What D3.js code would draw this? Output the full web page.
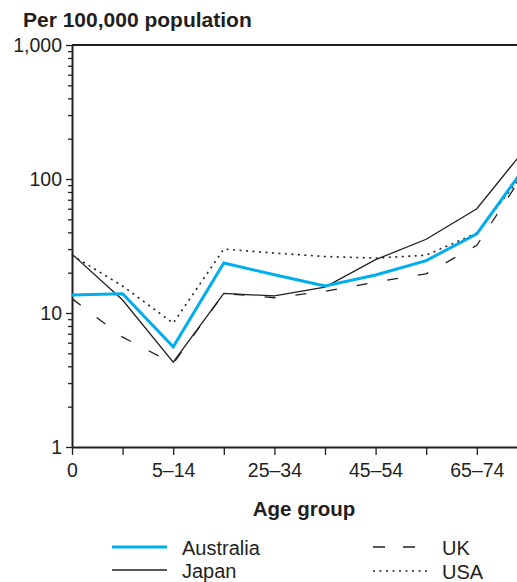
<!DOCTYPE html>
<html>
<head>
<meta charset="utf-8">
<script src="https://cdn.jsdelivr.net/npm/d3@7"></script>
<style>
  body { margin: 0; background: #fff; }
  svg { display: block; font-family: "Liberation Sans", Arial, sans-serif; }
</style>
</head>
<body>
<div id="graf"></div>
<script>
// datos
var edades = ['0', '1–4', '5–14', '15–24', '25–34', '35–44', '45–54', '55–64', '65–74', '75–84']
var australia = [13.6, 13.9, 5.6, 23.6, 19.3, 15.9, 19.2, 24.6, 39, 130]
var japon     = [27.5, 12.5, 4.3, 14, 13.4, 15.6, 25, 35.5, 60, 176]
var uk        = [12.8, 6.6, 4.2, 14, 13, 14.5, 17, 19.6, 32, 121]
var usa       = [27, 15.9, 8.4, 30, 28, 26.4, 25.7, 27, 39.5, 120]
var yTicks = [1, 10, 100, 1000]
var xEtiquetas = ['0', '5–14', '25–34', '45–54', '65–74']

var ancho = 517, alto = 582
var margins = { top: 45, left: 72, bottom: 135 }

var svg = d3.select('#graf').append('svg')
  .attr('width', ancho)
  .attr('height', alto)

// escalas
var x = d3.scalePoint()
  .domain(edades)
  .range([margins.left, margins.left + 9 * 50.6])

var y = d3.scaleLog()
  .domain([1, 1000])
  .range([alto - margins.bottom, margins.top])

// titulo
svg.append('text')
  .attr('x', 23).attr('y', 27)
  .attr('font-size', '21px').attr('font-weight', 'bold')
  .attr('fill', '#231f20')
  .text('Per 100,000 population')

// linea superior
svg.append('line')
  .attr('x1', margins.left).attr('x2', ancho)
  .attr('y1', y(1000)).attr('y2', y(1000))
  .attr('stroke', '#231f20').attr('stroke-width', 2)

// eje y (menores)
var menores = []
for (var dec = 1; dec < 1000; dec *= 10) {
  for (var k = 2; k <= 9; k++) menores.push(dec * k)
}
svg.append('g')
  .attr('transform', `translate(${margins.left}, 0)`)
  .call(d3.axisLeft(y).tickValues(menores).tickSize(4).tickFormat(''))
  .call(g => g.select('.domain').remove())
  .selectAll('line').attr('stroke', '#231f20').attr('stroke-width', 1.3)

// eje y (mayores)
var yAxisGroup = svg.append('g')
  .attr('transform', `translate(${margins.left}, 0)`)
  .call(d3.axisLeft(y).tickValues(yTicks).tickSize(6).tickSizeOuter(0).tickPadding(4)
    .tickFormat(d3.format(',')))
yAxisGroup.select('.domain').attr('stroke', '#231f20').attr('stroke-width', 2)
yAxisGroup.selectAll('line').attr('stroke', '#231f20').attr('stroke-width', 1.3)
yAxisGroup.selectAll('text')
  .attr('font-size', '19.5px').attr('fill', '#231f20')
  .attr('font-family', '"Liberation Sans", Arial, sans-serif')

// eje x
var xAxisGroup = svg.append('g')
  .attr('transform', `translate(0, ${y(1)})`)
  .call(d3.axisBottom(x).tickSize(8).tickSizeOuter(0).tickPadding(8)
    .tickFormat(d => xEtiquetas.indexOf(d) >= 0 ? d : ''))
xAxisGroup.select('.domain').attr('stroke', '#231f20').attr('stroke-width', 2)
xAxisGroup.selectAll('line').attr('stroke', '#231f20').attr('stroke-width', 1.3)
xAxisGroup.selectAll('text')
  .attr('font-size', '19.5px').attr('fill', '#231f20')
  .attr('font-family', '"Liberation Sans", Arial, sans-serif')

svg.append('text')
  .attr('x', 304).attr('y', 516)
  .attr('text-anchor', 'middle')
  .attr('font-size', '20.5px').attr('font-weight', 'bold')
  .attr('fill', '#231f20')
  .text('Age group')

// series
var series = [
  { nombre: 'Australia', valores: australia, color: '#00aeef', ancho: 3, dash: null },
  { nombre: 'Japan', valores: japon, color: '#231f20', ancho: 1.3, dash: null },
  { nombre: 'UK', valores: uk, color: '#231f20', ancho: 1.3, dash: '11,20' },
  { nombre: 'USA', valores: usa, color: '#231f20', ancho: 1.6, dash: '2,4.5' }
]

var linea = d3.line()
  .x((d, i) => x(edades[i]))
  .y(d => y(d))

var orden = [3, 2, 1, 0]
orden.forEach(i => {
  var s = series[i]
  svg.append('path')
    .datum(s.valores)
    .attr('d', linea)
    .attr('fill', 'none')
    .attr('stroke', s.color)
    .attr('stroke-width', s.ancho)
    .attr('stroke-dasharray', s.dash)
    .attr('stroke-linejoin', 'miter')
})

// leyenda
var leyenda = [
  { s: series[0], x: 112, y: 547 },
  { s: series[1], x: 112, y: 570 },
  { s: series[2], x: 373, y: 547 },
  { s: series[3], x: 373, y: 571 }
]
leyenda.forEach(l => {
  svg.append('line')
    .attr('x1', l.x).attr('x2', l.x + (l.s.dash === '11,20' ? 42 : 55))
    .attr('y1', l.y).attr('y2', l.y)
    .attr('stroke', l.s.color)
    .attr('stroke-width', l.s.ancho)
    .attr('stroke-dasharray', l.s.dash === '11,20' ? '12,18' : l.s.dash)
  svg.append('text')
    .attr('x', l.x < 200 ? 182 : 442)
    .attr('y', l.y + 8)
    .attr('font-size', '20px')
    .attr('fill', '#231f20')
    .text(l.s.nombre)
})
</script>
</body>
</html>
